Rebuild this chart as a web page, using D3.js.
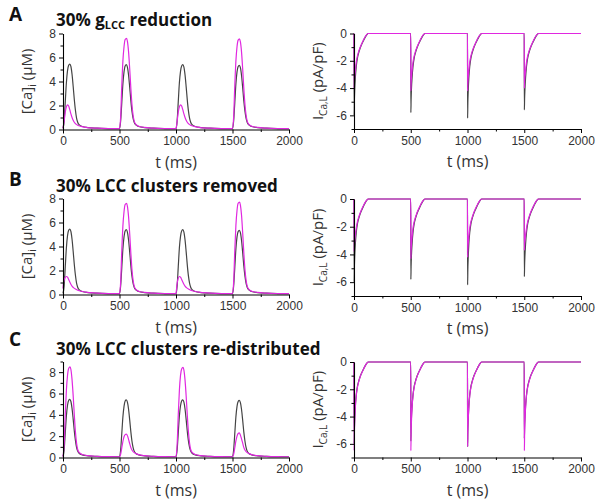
<!DOCTYPE html>
<html>
<head>
<meta charset="utf-8">
<script src="https://cdn.jsdelivr.net/npm/d3@7"></script>
<style>
  body { margin: 0; background: #fff; }
  svg { font-family: "Open Sans", "Liberation Sans", sans-serif; }
</style>
</head>
<body>
<div id="chart"></div>
<script>
// ---- data ----
const xTicks = [0, 500, 1000, 1500, 2000];
const xMinor = [250, 750, 1250, 1750];
const caTicks = [0, 2, 4, 6, 8];
const caMinor = [1, 3, 5, 7];
const caMinorC = [1, 3, 5, 7, 9];
const iTicks = [0, -2, -4, -6];
const iMinor = [-1, -3, -5, -7];

// control [Ca]i (black), same trace in every row
const caCtrl = [
  [0, 0.1], [10, 0.7], [20, 2.3], [30, 3.9], [40, 4.9], [50, 5.35], [60, 5.45], [70, 5.25], [80, 4.6], [90, 3.6],
  [100, 2.5], [110, 1.6], [120, 0.95], [130, 0.6], [145, 0.38], [170, 0.25], [220, 0.16], [300, 0.11], [400, 0.08], [499, 0.07],
  [500, 0.07], [510, 0.7], [520, 2.2], [530, 3.8], [540, 4.8], [550, 5.3], [560, 5.4], [570, 5.2], [580, 4.55], [590, 3.55],
  [600, 2.45], [610, 1.55], [620, 0.95], [630, 0.6], [645, 0.38], [670, 0.25], [720, 0.16], [800, 0.11], [900, 0.08], [999, 0.07],
  [1000, 0.07], [1010, 0.7], [1020, 2.3], [1030, 3.9], [1040, 4.85], [1050, 5.3], [1060, 5.4], [1070, 5.2], [1080, 4.55], [1090, 3.55],
  [1100, 2.45], [1110, 1.55], [1120, 0.95], [1130, 0.6], [1145, 0.38], [1170, 0.25], [1220, 0.16], [1300, 0.11], [1400, 0.08], [1499, 0.07],
  [1500, 0.07], [1510, 0.7], [1520, 2.2], [1530, 3.8], [1540, 4.8], [1550, 5.25], [1560, 5.35], [1570, 5.15], [1580, 4.5], [1590, 3.5],
  [1600, 2.4], [1610, 1.55], [1620, 0.95], [1630, 0.6], [1645, 0.38], [1670, 0.25], [1720, 0.16], [1800, 0.11], [1900, 0.08], [2000, 0.07]
];

// 30% gLCC reduction (magenta)
const caRedA = [
  [0, 0.1], [10, 0.7], [20, 1.45], [30, 1.9], [42, 2.05], [50, 1.95], [60, 1.65], [70, 1.3], [80, 1.0], [90, 0.78],
  [100, 0.6], [115, 0.45], [130, 0.36], [160, 0.26], [200, 0.18], [300, 0.11], [400, 0.08], [499, 0.07],
  [500, 0.07], [510, 1.0], [520, 3.6], [530, 5.7], [540, 6.9], [550, 7.5], [562, 7.6], [570, 7.35], [580, 6.5], [590, 5.1],
  [600, 3.5], [610, 2.1], [620, 1.2], [630, 0.7], [645, 0.42], [670, 0.27], [720, 0.17], [800, 0.11], [900, 0.08], [999, 0.07],
  [1000, 0.07], [1010, 0.7], [1020, 1.45], [1030, 1.9], [1042, 2.05], [1050, 1.95], [1060, 1.65], [1070, 1.3], [1080, 1.0], [1090, 0.78],
  [1100, 0.6], [1115, 0.45], [1130, 0.36], [1160, 0.26], [1200, 0.18], [1300, 0.11], [1400, 0.08], [1499, 0.07],
  [1500, 0.07], [1510, 1.0], [1520, 3.6], [1530, 5.7], [1540, 6.9], [1550, 7.45], [1562, 7.55], [1570, 7.3], [1580, 6.45], [1590, 5.05],
  [1600, 3.45], [1610, 2.1], [1620, 1.2], [1630, 0.7], [1645, 0.42], [1670, 0.27], [1720, 0.17], [1800, 0.11], [1900, 0.08], [2000, 0.07]
];

// 30% LCC clusters removed (magenta)
const caRedB = [
  [0, 0.5], [5, 1.0], [15, 1.35], [30, 1.5], [40, 1.45], [50, 1.25], [60, 1.05], [70, 0.85], [80, 0.7], [95, 0.55],
  [110, 0.45], [130, 0.36], [160, 0.27], [200, 0.2], [300, 0.12], [400, 0.08], [499, 0.07],
  [500, 0.07], [510, 1.0], [520, 3.6], [530, 5.7], [540, 6.9], [550, 7.5], [562, 7.6], [570, 7.35], [580, 6.5], [590, 5.1],
  [600, 3.5], [610, 2.1], [620, 1.2], [630, 0.7], [645, 0.42], [670, 0.27], [720, 0.17], [800, 0.11], [900, 0.08], [999, 0.07],
  [1000, 0.07], [1008, 0.8], [1018, 1.3], [1030, 1.5], [1040, 1.45], [1050, 1.25], [1060, 1.05], [1070, 0.85], [1080, 0.7], [1095, 0.55],
  [1110, 0.45], [1130, 0.36], [1160, 0.27], [1200, 0.2], [1300, 0.12], [1400, 0.08], [1499, 0.07],
  [1500, 0.07], [1510, 1.0], [1520, 3.6], [1530, 5.75], [1540, 7.0], [1550, 7.6], [1562, 7.7], [1570, 7.45], [1580, 6.6], [1590, 5.15],
  [1600, 3.5], [1610, 2.1], [1620, 1.2], [1630, 0.7], [1645, 0.42], [1670, 0.27], [1720, 0.17], [1800, 0.11], [1900, 0.08], [2000, 0.07]
];

// 30% LCC clusters re-distributed (magenta)
const caRedC = [
  [0, 0.07], [10, 1.2], [20, 4.0], [30, 6.3], [40, 7.7], [50, 8.35], [62, 8.5], [70, 8.25], [80, 7.3], [90, 5.8],
  [100, 4.0], [110, 2.4], [120, 1.35], [130, 0.75], [145, 0.45], [170, 0.28], [220, 0.17], [300, 0.11], [400, 0.08], [499, 0.07],
  [500, 0.07], [510, 0.3], [520, 0.9], [530, 1.5], [540, 1.95], [550, 2.15], [560, 2.2], [570, 2.05], [580, 1.7], [590, 1.3],
  [600, 0.95], [610, 0.7], [625, 0.5], [645, 0.38], [670, 0.27], [720, 0.17], [800, 0.11], [900, 0.08], [999, 0.07],
  [1000, 0.07], [1010, 1.2], [1020, 4.0], [1030, 6.3], [1040, 7.7], [1050, 8.3], [1062, 8.45], [1070, 8.2], [1080, 7.25], [1090, 5.75],
  [1100, 3.95], [1110, 2.4], [1120, 1.35], [1130, 0.75], [1145, 0.45], [1170, 0.28], [1220, 0.17], [1300, 0.11], [1400, 0.08], [1499, 0.07],
  [1500, 0.07], [1510, 0.3], [1520, 0.9], [1530, 1.55], [1540, 2.0], [1550, 2.25], [1560, 2.3], [1570, 2.1], [1580, 1.75], [1590, 1.35],
  [1600, 0.95], [1610, 0.7], [1625, 0.5], [1645, 0.38], [1670, 0.27], [1720, 0.17], [1800, 0.11], [1900, 0.08], [2000, 0.07]
];

// control I_CaL (black), same trace in every row
const iCtrl = [
  [0, 0], [1, -6.0], [3, -5.0], [6, -4.2], [12, -3.2], [20, -2.4], [30, -1.8], [40, -1.45], [53, -1.1], [65, -0.85],
  [82, -0.55], [97, -0.3], [112, -0.1], [126, 0], [499, 0],
  [500, 0], [501, -5.8], [503, -4.9], [506, -4.1], [512, -3.2], [520, -2.4], [530, -1.8], [540, -1.45], [553, -1.1], [565, -0.85],
  [582, -0.55], [597, -0.3], [612, -0.1], [626, 0], [999, 0],
  [1000, 0], [1001, -6.2], [1003, -5.1], [1006, -4.3], [1012, -3.2], [1020, -2.4], [1030, -1.8], [1040, -1.45], [1053, -1.1], [1065, -0.85],
  [1082, -0.55], [1097, -0.3], [1112, -0.1], [1126, 0], [1499, 0],
  [1500, 0], [1501, -5.6], [1503, -4.8], [1506, -4.1], [1512, -3.2], [1520, -2.4], [1530, -1.8], [1540, -1.45], [1553, -1.1], [1565, -0.85],
  [1582, -0.55], [1597, -0.3], [1612, -0.1], [1626, 0], [2000, 0]
];

const iRedA = [
  [0, 0], [1, -4.1], [3, -3.6], [6, -3.2], [12, -2.7], [20, -2.1], [30, -1.65], [40, -1.35], [53, -1.05], [65, -0.8],
  [82, -0.5], [97, -0.26], [112, -0.08], [126, 0], [499, 0],
  [500, 0], [501, -4.2], [503, -3.7], [506, -3.25], [512, -2.7], [520, -2.1], [530, -1.65], [540, -1.35], [553, -1.05], [565, -0.8],
  [582, -0.5], [597, -0.26], [612, -0.08], [626, 0], [999, 0],
  [1000, 0], [1001, -4.2], [1003, -3.7], [1006, -3.25], [1012, -2.7], [1020, -2.1], [1030, -1.65], [1040, -1.35], [1053, -1.05], [1065, -0.8],
  [1082, -0.5], [1097, -0.26], [1112, -0.08], [1126, 0], [1499, 0],
  [1500, 0], [1501, -4.0], [1503, -3.55], [1506, -3.15], [1512, -2.7], [1520, -2.1], [1530, -1.65], [1540, -1.35], [1553, -1.05], [1565, -0.8],
  [1582, -0.5], [1597, -0.26], [1612, -0.08], [1626, 0], [2000, 0]
];

const iRedB = [
  [0, 0], [1, -3.8], [3, -3.4], [6, -3.1], [12, -2.6], [20, -2.1], [30, -1.65], [40, -1.35], [53, -1.05], [65, -0.8],
  [82, -0.5], [97, -0.26], [112, -0.08], [126, 0], [499, 0],
  [500, 0], [501, -4.3], [503, -3.75], [506, -3.3], [512, -2.7], [520, -2.1], [530, -1.65], [540, -1.35], [553, -1.05], [565, -0.8],
  [582, -0.5], [597, -0.26], [612, -0.08], [626, 0], [999, 0],
  [1000, 0], [1001, -4.2], [1003, -3.7], [1006, -3.25], [1012, -2.7], [1020, -2.1], [1030, -1.65], [1040, -1.35], [1053, -1.05], [1065, -0.8],
  [1082, -0.5], [1097, -0.26], [1112, -0.08], [1126, 0], [1499, 0],
  [1500, 0], [1501, -3.7], [1503, -3.35], [1506, -3.05], [1512, -2.6], [1520, -2.1], [1530, -1.65], [1540, -1.35], [1553, -1.05], [1565, -0.8],
  [1582, -0.5], [1597, -0.26], [1612, -0.08], [1626, 0], [2000, 0]
];

const iRedC = [
  [0, 0], [1, -6.5], [3, -5.3], [6, -4.4], [12, -3.3], [20, -2.45], [30, -1.85], [40, -1.5], [53, -1.12], [65, -0.86],
  [82, -0.55], [97, -0.3], [112, -0.1], [126, 0], [499, 0],
  [500, 0], [501, -6.5], [503, -5.3], [506, -4.4], [512, -3.3], [520, -2.45], [530, -1.85], [540, -1.5], [553, -1.12], [565, -0.86],
  [582, -0.55], [597, -0.3], [612, -0.1], [626, 0], [999, 0],
  [1000, 0], [1001, -6.2], [1003, -5.2], [1006, -4.35], [1012, -3.3], [1020, -2.45], [1030, -1.85], [1040, -1.5], [1053, -1.12], [1065, -0.86],
  [1082, -0.55], [1097, -0.3], [1112, -0.1], [1126, 0], [1499, 0],
  [1500, 0], [1501, -6.5], [1503, -5.3], [1506, -4.4], [1512, -3.3], [1520, -2.45], [1530, -1.85], [1540, -1.5], [1553, -1.12], [1565, -0.86],
  [1582, -0.55], [1597, -0.3], [1612, -0.1], [1626, 0], [2000, 0]
];

const rows = [
  {letter: 'A', title: ['30% g', 'LCC', ' reduction'], ca: caRedA, ical: iRedA, caMax: 8, caMinorTicks: caMinor},
  {letter: 'B', title: ['30% LCC clusters removed'], ca: caRedB, ical: iRedB, caMax: 8, caMinorTicks: caMinor},
  {letter: 'C', title: ['30% LCC clusters re-distributed'], ca: caRedC, ical: iRedC, caMax: 9, caMinorTicks: caMinorC}
];

// ---- layout ----
const WIDTH = 602;
const HEIGHT = 503;
const CTRL_COLOR = '#444';
const MOD_COLOR = '#e028e0';
const TEXT_COLOR = '#333';

const leftX = [63, 289];
const rightX = [354, 581];
// plot top/bottom (pixels) per row for left and right panels
const rowBoxes = [
  {left: [33.5, 129.5], right: [33.5, 129], letterY: 21, titleY: 26},
  {left: [198.5, 294.5], right: [199, 296], letterY: 186, titleY: 192},
  {left: [361.5, 457.5], right: [362, 457.5], letterY: 346, titleY: 355}
];

const svg = d3.select('#chart')
  .append('svg')
  .attr('width', WIDTH)
  .attr('height', HEIGHT);

function drawPanel(g, xRange, yRange, yDomain, yTicks, yMinorTicks, series, yLabel, yLabelX) {
  const x = d3.scaleLinear().domain([0, 2000]).range(xRange);
  const y = d3.scaleLinear().domain(yDomain).range([yRange[1], yRange[0]]);

  const line = d3.line()
    .curve(d3.curveMonotoneX)
    .x((d) => x(d[0]))
    .y((d) => y(d[1]));

  series.forEach(({data, color}) => {
    g.append('path')
      .attr('d', line(data))
      .attr('fill', 'none')
      .attr('stroke', color)
      .attr('stroke-width', 1.2);
  });

  const fmt = (d) => String(d);

  const xAxis = g.append('g')
    .attr('transform', `translate(0,${yRange[1]})`)
    .call(d3.axisBottom(x).tickValues(xTicks).tickFormat(fmt).tickSize(4).tickSizeOuter(0).tickPadding(3));
  g.append('g')
    .attr('transform', `translate(0,${yRange[1]})`)
    .call(d3.axisBottom(x).tickValues(xMinor).tickSize(2.5).tickFormat(''))
    .select('.domain').remove();

  const yAxis = g.append('g')
    .attr('transform', `translate(${xRange[0]},0)`)
    .call(d3.axisLeft(y).tickValues(yTicks).tickFormat(fmt).tickSize(4).tickSizeOuter(0).tickPadding(3));
  g.append('g')
    .attr('transform', `translate(${xRange[0]},0)`)
    .call(d3.axisLeft(y).tickValues(yMinorTicks).tickSize(2.5).tickFormat(''))
    .select('.domain').remove();

  [xAxis, yAxis].forEach((a) => {
    a.selectAll('text')
      .attr('fill', TEXT_COLOR)
      .style('font-size', '12px');
    a.select('.domain').attr('stroke-width', 1.1);
  });

  // x title
  g.append('text')
    .attr('x', (xRange[0] + xRange[1]) / 2)
    .attr('y', yRange[1] + 38)
    .attr('text-anchor', 'middle')
    .attr('fill', TEXT_COLOR)
    .style('font-size', '16px')
    .text('t (ms)');

  // y title with subscript
  const yt = g.append('text')
    .attr('transform', `translate(${yLabelX},${(yRange[0] + yRange[1]) / 2}) rotate(-90)`)
    .attr('text-anchor', 'middle')
    .attr('fill', TEXT_COLOR)
    .style('font-size', '15px');
  yt.append('tspan').text(yLabel[0]);
  yt.append('tspan').attr('dy', 4).style('font-size', '10px').text(yLabel[1]);
  yt.append('tspan').attr('dy', -4).text(yLabel[2]);
}

rows.forEach((row, i) => {
  const box = rowBoxes[i];
  const g = svg.append('g');

  g.append('text')
    .attr('x', 9)
    .attr('y', box.letterY)
    .attr('fill', '#111')
    .style('font-size', '19px')
    .style('font-weight', 'bold')
    .text(row.letter);

  const title = g.append('text')
    .attr('x', 56)
    .attr('y', box.titleY)
    .attr('fill', '#111')
    .style('font-size', '17px')
    .style('font-weight', 'bold');
  title.append('tspan').text(row.title[0]);
  if (row.title.length > 1) {
    title.append('tspan').attr('dy', 3).style('font-size', '11px').text(row.title[1]);
    title.append('tspan').attr('dy', -3).text(row.title[2]);
  }

  drawPanel(g, leftX, box.left, [0, row.caMax], caTicks, row.caMinorTicks,
    [{data: caCtrl, color: CTRL_COLOR}, {data: row.ca, color: MOD_COLOR}],
    ['[Ca]', 'i', ' (\u03bcM)'], 32);

  drawPanel(g, rightX, box.right, [-7, 0], iTicks, iMinor,
    [{data: iCtrl, color: CTRL_COLOR}, {data: row.ical, color: MOD_COLOR}],
    ['I', 'Ca,L', ' (pA/pF)'], 323);
});
</script>
</body>
</html>
